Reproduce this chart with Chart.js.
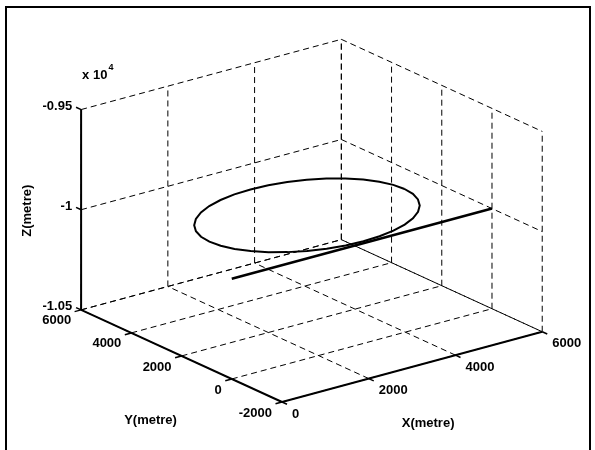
<!DOCTYPE html>
<html>
<head>
<meta charset="utf-8">
<script src="https://cdn.jsdelivr.net/npm/chart.js@4.4.1/dist/chart.umd.min.js"></script>
<style>
    html, body { margin: 0; padding: 0; background: #fff; overflow: hidden; }
    #wrap { position: relative; width: 595px; height: 450px; }
    #frame {
        position: absolute; left: 5px; top: 6px; width: 582px; height: 470px;
        border: 2px solid #000; pointer-events: none;
    }
    canvas { position: absolute; left: 0; top: 0; }
</style>
</head>
<body>
<div id="wrap">
    <canvas id="path3d" width="595" height="450"></canvas>
    <div id="frame"></div>
</div>
<script>
// axis limits and ticks
const xRange = [0, 6000];
const yRange = [-2000, 6000];
const zRange = [-10500, -9500];
const xTicks = [0, 2000, 4000, 6000];
const yTicks = [-2000, 0, 2000, 4000, 6000];
const zTicks = [-10500, -10000, -9500];
const zTickLabels = ['-1.05', '-1', '-0.95'];

// straight leg along the X axis
const legX = [0, 6000];
const legY = [0, 0];
const legZ = [-10000, -10000];

// circular leg, flown at constant altitude
const loopX = [5350, 5316, 5214, 5049, 4824, 4546, 4225, 3870, 3491, 3100, 2709, 2331,
               1975, 1654, 1376, 1151, 986, 884, 850, 884, 986, 1151, 1376, 1654,
               1975, 2331, 2709, 3100, 3491, 3870, 4225, 4546, 4824, 5049, 5214, 5316, 5350];
const loopY = [2360, 2751, 3130, 3485, 3806, 4084, 4309, 4474, 4576, 4610, 4576, 4474,
               4309, 4084, 3806, 3485, 3130, 2751, 2360, 1969, 1591, 1235, 914, 636,
               411, 246, 144, 110, 144, 246, 411, 636, 914, 1235, 1591, 1969, 2360];
const loopZ = -10000;

// view: azimuth / elevation in degrees, box edge lengths in view units
const AZ = 37.5, EL = 20.6;
const BOX = [328, 330, 214];

function project(x, y, z) {
    const a = AZ * Math.PI / 180, e = EL * Math.PI / 180;
    const bx = (x - xRange[0]) / (xRange[1] - xRange[0]) * BOX[0];
    const by = (y - yRange[0]) / (yRange[1] - yRange[0]) * BOX[1];
    const bz = (z - zRange[0]) / (zRange[1] - zRange[0]) * BOX[2];
    return {
        x: bx * Math.cos(a) - by * Math.sin(a),
        y: (bx * Math.sin(a) + by * Math.cos(a)) * Math.sin(e) + bz * Math.cos(e)
    };
}

const datasets = [];
function addLine(pts, style) {
    datasets.push(Object.assign({
        data: pts.map(p => project(p[0], p[1], p[2])),
        showLine: true,
        pointRadius: 0,
        borderColor: '#000',
        fill: false,
        clip: false
    }, style));
}

// dashed grid on the floor and the two back walls
const gridStyle = { borderWidth: 1, borderDash: [6, 4], order: 3 };
const [x0, x1] = xRange, [y0, y1] = yRange, [z0, z1] = zRange;
xTicks.forEach(t => {
    addLine([[t, y0, z0], [t, y1, z0]], gridStyle);
    addLine([[t, y1, z0], [t, y1, z1]], gridStyle);
});
yTicks.forEach(t => {
    addLine([[x0, t, z0], [x1, t, z0]], gridStyle);
    addLine([[x1, t, z0], [x1, t, z1]], gridStyle);
});
zTicks.forEach(t => {
    addLine([[x0, y1, t], [x1, y1, t]], gridStyle);
    addLine([[x1, y1, t], [x1, y0, t]], gridStyle);
});

// solid axis lines and tick marks
const axisStyle = { borderWidth: 2, order: 2 };
addLine([[x0, y1, z0], [x0, y1, z1]], axisStyle);
addLine([[x0, y1, z0], [x0, y0, z0]], axisStyle);
addLine([[x0, y0, z0], [x1, y0, z0]], axisStyle);
const tickStyle = { borderWidth: 1.5, order: 2 };
xTicks.forEach(t => addLine([[t, y0, z0], [t, y0 - 200, z0]], tickStyle));
yTicks.forEach(t => addLine([[x0, t, z0], [x0 - 150, t, z0]], tickStyle));
zTicks.forEach(t => addLine([[x0, y1, t], [x0, y1 + 200, t]], tickStyle));

// flight path
addLine(legX.map((v, i) => [v, legY[i], legZ[i]]), { borderWidth: 2.5, order: 0 });
addLine(loopX.map((v, i) => [v, loopY[i], loopZ]), { borderWidth: 2, order: 0 });

const axisText = {
    id: 'axisText',
    afterDatasetsDraw(chart) {
        const { ctx, scales: { x: sx, y: sy } } = chart;
        const px = p => [sx.getPixelForValue(p.x), sy.getPixelForValue(p.y)];
        const font = 'bold 13px "Liberation Sans", Arial, sans-serif';
        ctx.save();
        ctx.fillStyle = '#000';
        ctx.font = font;
        ctx.textBaseline = 'middle';

        ctx.textAlign = 'left';
        xTicks.forEach(t => {
            const [u, v] = px(project(t, y0, z0));
            ctx.fillText(String(t), u + 10, v + 12);
        });
        ctx.textAlign = 'right';
        yTicks.forEach(t => {
            const [u, v] = px(project(x0, t, z0));
            ctx.fillText(String(t), u - 10, v + 11);
        });
        zTicks.forEach((t, i) => {
            const [u, v] = px(project(x0, y1, t));
            ctx.fillText(zTickLabels[i], u - 9, v - 3);
        });

        // exponent above the Z axis
        const [zu, zv] = px(project(x0, y1, z1));
        ctx.textAlign = 'left';
        ctx.fillText('x 10', zu + 1, zv - 34);
        const w = ctx.measureText('x 10').width;
        ctx.font = 'bold 9px "Liberation Sans", Arial, sans-serif';
        ctx.fillText('4', zu + 2 + w, zv - 42);

        // axis titles
        ctx.font = font;
        ctx.textAlign = 'center';
        const [xu, xv] = px(project((x0 + x1) / 2, y0, z0));
        ctx.fillText('X(metre)', xu + 16, xv + 57);
        const [yu, yv] = px(project(x0, (y0 + y1) / 2, z0));
        ctx.fillText('Y(metre)', yu - 31, yv + 64);
        const [mu, mv] = px(project(x0, y1, (z0 + z1) / 2));
        ctx.translate(mu - 54, mv + 1);
        ctx.rotate(-Math.PI / 2);
        ctx.fillText('Z(metre)', 0, 0);
        ctx.restore();
    }
};

new Chart(document.getElementById('path3d'), {
    type: 'scatter',
    data: { datasets },
    options: {
        responsive: false,
        animation: false,
        layout: { padding: 0, autoPadding: false },
        scales: {
            x: { type: 'linear', min: -282, max: 313, display: false },
            y: { type: 'linear', min: -48, max: 402, display: false }
        },
        plugins: { legend: { display: false }, tooltip: { enabled: false } }
    },
    plugins: [axisText]
});
</script>
</body>
</html>
